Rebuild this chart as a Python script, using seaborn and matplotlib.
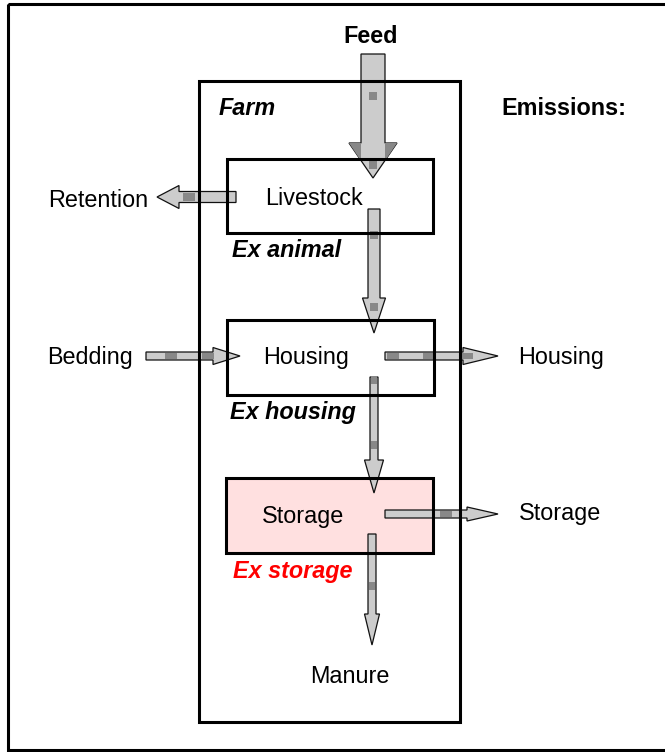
import matplotlib
matplotlib.use("Agg")
import matplotlib.pyplot as plt
from matplotlib.patches import Rectangle, Polygon
import seaborn as sns

# ---- content ----
box_names = ["Livestock", "Housing", "Storage"]
box_fills = ["white", "white", "#FFE0E0"]
ex_labels = ["Ex animal", "Ex housing", "Ex storage"]
ex_colors = ["black", "black", "#FF0000"]
input_labels = ["Feed", "Bedding"]
output_labels = ["Retention", "Manure"]
emission_labels = ["Housing", "Storage"]
header_labels = ["Farm", "Emissions:"]

sns.set_theme(style="white")
plt.rcParams['font.family'] = ['Liberation Sans', 'DejaVu Sans']
plt.rcParams['text.color'] = 'black'

W, H = 665, 752
fig = plt.figure(figsize=(W / 100, H / 100), dpi=100)
ax = fig.add_axes([0, 0, 1, 1])
ax.set_xlim(0, W)
ax.set_ylim(H, 0)
ax.axis("off")

FS = 16.8
LW_BOX = 2.2
ARROW_FILL = "#CCCCCC"
SQ = "#888888"

# outer frame (right edge falls just outside the canvas)
ax.add_patch(Rectangle((8, 4), 662, 746, fill=False, ec="black", lw=LW_BOX, zorder=5))

# farm box
ax.add_patch(Rectangle((199, 81), 261, 641, fill=False, ec="black", lw=LW_BOX, zorder=5))

# inner boxes (fill below arrows, edge above)
box_geo = [(227, 159, 206, 74), (227, 320, 207, 75), (226, 478, 207, 75)]
for (x, y, w, h), fc in zip(box_geo, box_fills):
    ax.add_patch(Rectangle((x, y), w, h, fc=fc, ec="none", zorder=1))
    ax.add_patch(Rectangle((x, y), w, h, fill=False, ec="black", lw=LW_BOX, zorder=5))


def arrow(tail, tip, sw, hw, hl, squares, flare=False):
    (x0, y0), (x1, y1) = tail, tip
    dx, dy = x1 - x0, y1 - y0
    L = (dx ** 2 + dy ** 2) ** 0.5
    ux, uy = dx / L, dy / L
    px, py = -uy, ux
    bx, by = x1 - ux * hl, y1 - uy * hl
    pts = [
        (x0 + px * sw / 2, y0 + py * sw / 2),
        (bx + px * sw / 2, by + py * sw / 2),
        (bx + px * hw / 2, by + py * hw / 2),
        (x1, y1),
        (bx - px * hw / 2, by - py * hw / 2),
        (bx - px * sw / 2, by - py * sw / 2),
        (x0 - px * sw / 2, y0 - py * sw / 2),
    ]
    ax.add_patch(Polygon(pts, closed=True, fc=ARROW_FILL, ec="#111111", lw=0.9,
                         joinstyle="miter", zorder=2))
    if flare:
        frac = (hw - sw) / hw
        for sgn in (1, -1):
            a = (bx + sgn * px * hw / 2, by + sgn * py * hw / 2)
            b = (bx + sgn * px * sw / 2, by + sgn * py * sw / 2)
            c = (b[0] + ux * hl * frac, b[1] + uy * hl * frac)
            ax.add_patch(Polygon([a, b, c], closed=True, fc=SQ, ec="none", zorder=3))
    s = min(sw, 9) - 1.5
    for (cx, cy) in squares:
        if abs(ux) > abs(uy):
            ax.add_patch(Rectangle((cx - 6, cy - s / 2), 12, s, fc=SQ, ec="none", zorder=3))
        else:
            ax.add_patch(Rectangle((cx - s / 2, cy - 4), s, 8, fc=SQ, ec="none", zorder=3))


# feed arrow
arrow((373, 54), (373, 178), 24, 48, 35, [(373, 96), (373, 165)], flare=True)
# retention
arrow((236, 197), (157, 197), 11, 23, 22, [(189, 197)])
# livestock -> housing
arrow((374, 209), (374, 333), 12, 23, 35, [(374, 235), (374, 307)])
# bedding
arrow((146, 356), (240, 356), 8, 17, 27, [(171, 356), (208, 356)])
# housing emission
arrow((385, 356), (498, 356), 8, 17, 35, [(393, 356), (429, 356), (467, 356)])
# housing -> storage
arrow((374, 377), (374, 493), 8, 19, 33, [(374, 380), (374, 445)])
# storage emission
arrow((385, 514), (498, 514), 8, 14, 31, [(446, 514)])
# manure
arrow((372, 534), (372, 645), 8, 15, 31, [(372, 586)])

# texts
ax.text(371, 43, input_labels[0], ha="center", va="baseline", fontsize=FS, fontweight="bold")
ax.text(247, 115, header_labels[0], ha="center", va="baseline", fontsize=FS,
        fontweight="bold", fontstyle="italic")
ax.text(564, 115, header_labels[1], ha="center", va="baseline", fontsize=FS, fontweight="bold")

ax.text(148, 207, output_labels[0], ha="right", va="baseline", fontsize=FS)
ax.text(90, 364, input_labels[1], ha="center", va="baseline", fontsize=FS)
ax.text(350, 683, output_labels[1], ha="center", va="baseline", fontsize=FS)

box_text_pos = [(314, 205), (306, 364), (303, 523)]
for (x, y), name in zip(box_text_pos, box_names):
    ax.text(x, y, name, ha="center", va="baseline", fontsize=FS)

ex_pos = [(287, 257), (293, 419), (293, 578)]
for (x, y), lab, c in zip(ex_pos, ex_labels, ex_colors):
    ax.text(x, y, lab, ha="center", va="baseline", fontsize=FS, fontweight="bold",
            fontstyle="italic", color=c)

em_pos = [(561, 364), (560, 520)]
for (x, y), lab in zip(em_pos, emission_labels):
    ax.text(x, y, lab, ha="center", va="baseline", fontsize=FS)

fig.savefig("out.png", dpi=100, facecolor="white")
